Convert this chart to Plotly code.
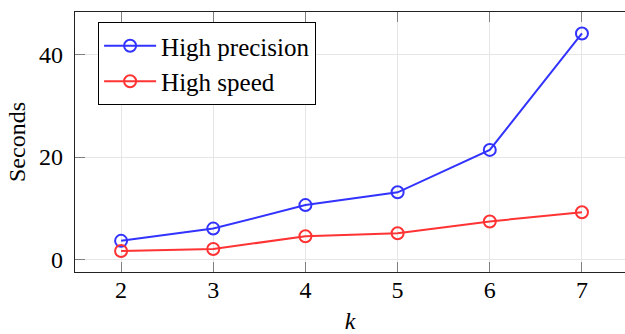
import plotly.graph_objects as go

k_values = [2, 3, 4, 5, 6, 7]
high_precision = [3.6, 6.0, 10.6, 13.1, 21.4, 44.2]
high_speed = [1.6, 2.0, 4.5, 5.1, 7.4, 9.2]
x_ticks = [2, 3, 4, 5, 6, 7]
y_ticks = [0, 20, 40]

BLUE = "#3333ff"
RED = "#ff3333"
FONT = "Liberation Serif, Times New Roman, serif"
XR = [1.5, 7.467]
YR = [-2.5, 48.4]

fig = go.Figure()
fig.add_trace(go.Scatter(
    x=k_values, y=high_precision, name="High precision", mode="lines+markers",
    line=dict(color=BLUE, width=2),
    marker=dict(symbol="circle-open", size=12, color=BLUE, line=dict(width=2, color=BLUE)),
))
fig.add_trace(go.Scatter(
    x=k_values, y=high_speed, name="High speed", mode="lines+markers",
    line=dict(color=RED, width=2),
    marker=dict(symbol="circle-open", size=12, color=RED, line=dict(width=2, color=RED)),
))

fig.update_layout(
    width=625, height=334,
    margin=dict(l=75, r=0, t=12, b=62),
    paper_bgcolor="white", plot_bgcolor="white",
    font=dict(family=FONT, size=24, color="black"),
    xaxis=dict(
        range=XR, tickvals=x_ticks, ticks="inside", ticklen=10, tickcolor="#808080",
        showgrid=True, gridcolor="#e6e6e6", gridwidth=1,
        showline=True, linecolor="#222222", linewidth=1.2, mirror="ticks",
        zeroline=False, ticklabelstandoff=-4, automargin=False,
        title=dict(text="<i>k</i>", standoff=14, font=dict(size=24)),
    ),
    yaxis=dict(
        range=YR, tickvals=y_ticks, ticks="inside", ticklen=10, tickcolor="#808080",
        showgrid=True, gridcolor="#e6e6e6", gridwidth=1,
        showline=True, linecolor="#222222", linewidth=1.2,
        zeroline=False, ticklabelstandoff=6, automargin=False,
        title=dict(text="Seconds", standoff=6, font=dict(size=24)),
    ),
    yaxis2=dict(
        range=YR, tickvals=y_ticks, ticks="inside", ticklen=10, tickcolor="#808080",
        overlaying="y", side="right", showticklabels=False, showgrid=False,
        showline=False, zeroline=False, automargin=False,
    ),
    legend=dict(
        x=0.042, y=0.9615, xanchor="left", yanchor="top",
        bgcolor="white", bordercolor="black", borderwidth=1,
        font=dict(family=FONT, size=25), tracegroupgap=0, itemwidth=52,
    ),
    showlegend=True,
)

fig.write_html("out.html", config={"displayModeBar": False},
               post_script="document.body.style.margin='0';")
